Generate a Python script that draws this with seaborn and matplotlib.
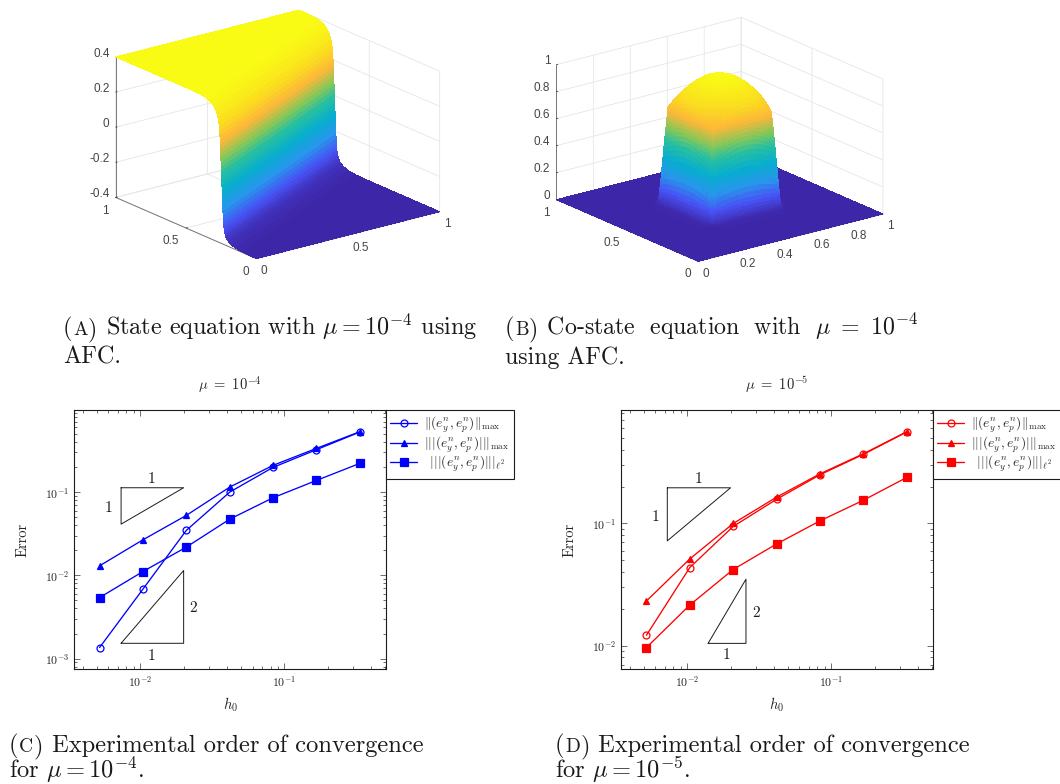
import numpy as np
import seaborn as sns
import matplotlib
matplotlib.use('Agg')
import matplotlib.pyplot as plt
from matplotlib.colors import LinearSegmentedColormap
from matplotlib.ticker import LogLocator, NullFormatter, FixedLocator, FixedFormatter

# step profile of panel A, read along the direction across the front
step_s = [-.75, -.25, -.15, -.1, -.07, -.05, -.04, -.032, -.026, -.022, -.019, -.017, -.015, -.0135, -.012,
          -.0108, -.0096, -.0084, -.0072, -.006, -.0048, -.0036, -.0024, -.0012, 0, .0012, .0024, .0036, .0048,
          .006, .0075, .009, .011, .014, .018, .024, .032, .045, .06, .08, .107, .15, .25, .75]
step_z = [-.4, -.4, -.398, -.392, -.383, -.372, -.362, -.35, -.335, -.32, -.30, -.28, -.26, -.235, -.21,
          -.185, -.16, -.135, -.11, -.085, -.06, -.035, -.01, .015, .04, .065, .09, .115, .14,
          .165, .19, .215, .24, .265, .29, .315, .335, .355, .37, .382, .392, .398, .4, .4]

# half profile of panel B, mirrored about 0.5
dome_x = [0, .2, .26, .28, .29, .295, .30, .302, .304, .306, .308, .3095, .311, .3125, .314, .3155, .317, .3185,
          .32, .3215, .323, .3245, .326, .3275, .329, .3305, .332, .3335, .335, .3365, .338, .34, .342,
          .35, .36, .37, .38, .39, .40, .41, .42, .43, .44, .45, .46, .47, .48, .49, .50]
dome_f = [0, 0, .003, .008, .015, .022, .035, .045, .06, .08, .105, .13, .16, .20, .24, .29, .34, .39,
          .43, .47, .51, .545, .58, .61, .64, .67, .70, .72, .74, .76, .79, .82, .85,
          .865, .88, .895, .908, .92, .932, .943, .953, .962, .969, .975, .98, .984, .987, .989, .99]

h0 = [0.0052, 0.0104, 0.0208, 0.0417, 0.0833, 0.1667, 0.3333]
c_max = [0.001355, 0.00682, 0.0346, 0.1, 0.198, 0.323, 0.526]
c_triple = [0.0130, 0.0267, 0.0524, 0.1148, 0.2094, 0.335, 0.531]
c_l2 = [0.0054, 0.0111, 0.0218, 0.0473, 0.0855, 0.138, 0.221]
d_max = [0.01216, 0.0436, 0.0945, 0.158, 0.2505, 0.368, 0.561]
d_triple = [0.0232, 0.0513, 0.1, 0.1644, 0.255, 0.372, 0.564]
d_l2 = [0.00964, 0.0215, 0.042, 0.0681, 0.105, 0.155, 0.238]

labels = [r'$\|(e_y^n,e_p^n)\|_{\max}$', r'$|||(e_y^n,e_p^n)|||_{\max}$', r'$\ \,|||(e_y^n,e_p^n)|||_{\ell^2}$']

sns.set_theme(style='ticks')
plt.rcParams['mathtext.fontset'] = 'cm'
plt.rcParams['font.family'] = ['cmr10', 'DejaVu Sans']
plt.rcParams['axes.formatter.use_mathtext'] = True

W, H = 1060, 784
fig = plt.figure(figsize=(W / 100, H / 100), dpi=100)

parula = LinearSegmentedColormap.from_list('parula', [
    (0, (.2422, .1504, .6603)), (.125, (.2810, .3228, .9579)), (.25, (.1540, .5902, .9218)),
    (.375, (.0265, .6800, .8100)), (.5, (.1500, .7500, .6300)), (.6, (.5200, .7800, .3500)),
    (.72, (.9900, .7200, .2200)), (.85, (.9800, .8700, .1200)), (1, (.9769, .9839, .0805))])


def rect(l, t, r, b):
    return [l / W, 1 - b / H, (r - l) / W, (b - t) / H]


def setup3d(ax, zlim, xt, yt, zt, zl, zasp):
    ax.set_proj_type('ortho')
    ax.view_init(elev=19.5, azim=-127.5)
    ax.set_box_aspect((1, 1, zasp), zoom=.83)
    ax.set_xlim(0, 1)
    ax.set_ylim(0, 1)
    ax.set_zlim(*zlim)
    ax.set_xticks(xt)
    ax.set_yticks(yt)
    ax.set_zticks(zt)
    tick_font = dict(family='Liberation Sans', fontsize=8.5, color='#444444')
    ax.set_xticklabels([('%g' % v) for v in xt], ha='left', **tick_font)
    ax.set_yticklabels([('%g' % v) for v in yt], ha='right', **tick_font)
    ax.set_zticklabels(zl, ha='right', va='baseline', **tick_font)
    for a in (ax.xaxis, ax.yaxis, ax.zaxis):
        a.set_pane_color((1, 1, 1, 0))
        a.pane.set_edgecolor('#dddddd')
        a.line.set_color('#777777')
        a.line.set_linewidth(.7)
        a._axinfo['grid'].update(color='#e6e6e6', linewidth=.6)
        a._axinfo['tick'].update(inward_factor=.0, outward_factor=.1, linewidth={True: .5, False: .5}, color='#777777')
    ax.tick_params(axis='x', pad=-3, length=2)
    ax.tick_params(axis='y', pad=-2, length=2)
    ax.tick_params(axis='z', pad=-5, length=2)


# panel A
ax = fig.add_axes(rect(62, -70, 482, 350), projection='3d')
s = np.array(step_s)
t = np.linspace(0, 1, 2)
x_lo = np.clip((-s - .25) / .5, 0, 1)
x_hi = np.clip((.75 - s) / .5, 0, 1)
X = np.outer(x_lo, 1 - t) + np.outer(x_hi, t)
Y = (s + .25)[:, None] + .5 * X
Z = np.tile(np.array(step_z)[:, None], (1, 2))
ax.plot_surface(X, Y, Z, cmap=parula, vmin=-.4, vmax=.4, rstride=1, cstride=1, linewidth=0, antialiased=False, shade=False)
setup3d(ax, (-.4, .4), [0, .5, 1], [0, .5, 1], [-.4, -.2, 0, .2, .4], ['-0.4', '-0.2', '0', '0.2', '0.4'], .645)

# panel B
ax = fig.add_axes(rect(504, -65, 924, 355), projection='3d')
gx = np.r_[dome_x, 1 - np.array(dome_x[-2::-1])]
gf = np.r_[dome_f, dome_f[-2::-1]]
X, Y = np.meshgrid(gx, gx)
Z = np.outer(gf, gf)
ax.plot_surface(X, Y, Z, cmap=parula, vmin=0, vmax=.98, rstride=1, cstride=1, linewidth=0, antialiased=False, shade=False)
setup3d(ax, (0, 1), [0, .2, .4, .6, .8, 1], [0, .5, 1], [0, .2, .4, .6, .8, 1], ['0', '0.2', '0.4', '0.6', '0.8', '1'], .615)


def conv_panel(box, color, series, xlim, ylim, title, tri1, tri2, notes, yticks):
    ax = fig.add_axes(rect(*box))
    ax.set_xscale('log')
    ax.set_yscale('log')
    for vals, mk, ms, mfc, lab in zip(series, ['o', '^', 's'], [5, 4.8, 6.2], ['none', color, color], labels):
        sns.lineplot(x=h0, y=vals, ax=ax, color=color, marker=mk, markersize=ms, markerfacecolor=mfc,
                     markeredgecolor=color, markeredgewidth=.9, linewidth=.95, errorbar=None, label=lab)
    for tri in (tri1, tri2):
        ax.plot(tri[0], tri[1], color='k', lw=.7)
    for nx, ny, txt in notes:
        ax.text(nx, ny, txt, fontsize=11, ha='center', va='center', color='k')
    ax.set_xlim(*xlim)
    ax.set_ylim(*ylim)
    ax.xaxis.set_major_locator(FixedLocator([1e-2, 1e-1]))
    ax.yaxis.set_major_locator(FixedLocator(yticks))
    ax.xaxis.set_major_formatter(FixedFormatter([r'$10^{-2}$', r'$10^{-1}$']))
    ax.yaxis.set_major_formatter(FixedFormatter([r'$10^{%d}$' % round(np.log10(v)) for v in yticks]))
    for a in (ax.xaxis, ax.yaxis):
        a.set_minor_locator(LogLocator(base=10, subs=range(2, 10), numticks=12))
        a.set_minor_formatter(NullFormatter())
    ax.tick_params(which='major', direction='in', top=True, right=True, length=4, width=.5, labelsize=8.5, pad=3.5, color='#333333')
    ax.tick_params(which='minor', direction='in', top=True, right=True, length=2.2, width=.5, color='#333333')
    for sp in ax.spines.values():
        sp.set_linewidth(.8)
        sp.set_color('k')
    ax.set_xlabel(r'$h_0$', fontsize=10.5, labelpad=5)
    ax.set_ylabel('Error', fontsize=10.5, labelpad=11.5)
    ax.set_title(title, fontsize=10.5, pad=15)
    leg = ax.legend(loc='upper left', bbox_to_anchor=(1, 1), borderaxespad=0, fancybox=False, framealpha=1,
                    edgecolor='k', fontsize=9.6, handlelength=2.0, labelspacing=-.08, borderpad=.35, handletextpad=.5)
    leg.get_frame().set_linewidth(.8)
    leg.set_clip_on(False)


conv_panel((74.4, 410.4, 385.8, 669), 'blue', [c_max, c_triple, c_l2], (.00348, .505), (7.5e-4, .957),
           r'$\mu\ =\ 10^{-4}$',
           ([.00734, .01995, .00734, .00734], [.1127, .1127, .0412, .1127]),
           ([.00734, .01995, .01995, .00734], [.001527, .001527, .01143, .001527]),
           [(.0120, .143, '1'), (.00605, .0645, '1'), (.0233, .00408, '2'), (.0120, .00108, '1')],
           [1e-3, 1e-2, 1e-1])
conv_panel((621.3, 410.4, 932.7, 669), 'red', [d_max, d_triple, d_l2], (.00348, .505), (6.44e-3, .843),
           r'$\mu\ =\ 10^{-5}$',
           ([.00726, .01995, .00726, .00726], [.196, .196, .0721, .196]),
           ([.01394, .02553, .02553, .01394], [.01044, .01044, .035, .01044]),
           [(.0120, .232, '1'), (.00605, .113, '1'), (.0298, .0186, '2'), (.0188, .0083, '1')],
           [1e-2, 1e-1])


def caption(x, y, letter, first, second, size, gap):
    # small-caps tag, then the rest of the line
    rend = fig.canvas.get_renderer()
    cur = x
    for piece, fs in (('(', size), (letter, size * .8), (')', size), (' ' + first, size)):
        tx = fig.text(cur / W, 1 - y / H, piece, fontsize=fs, va='baseline', ha='left', color='k')
        cur = tx.get_window_extent(rend).x1 + .5
    fig.text(x / W, 1 - (y + gap) / H, second, fontsize=size, va='baseline', ha='left', color='k')


caption(63, 335, 'A', r'State equation with $\mu=10^{-4}$ using', 'AFC.', 17.4, 29)
caption(505, 335, 'B', r'Co-state$\ $ equation$\ $ with$\ $ $\mu\ =\ 10^{-4}$', 'using AFC.', 17.2, 29)
caption(9, 752, 'C', 'Experimental order of convergence', r'for $\mu=10^{-4}$.', 17.6, 26)
caption(555, 752, 'D', 'Experimental order of convergence', r'for $\mu=10^{-5}$.', 17.6, 26)

fig.savefig('out.png', dpi=100)
